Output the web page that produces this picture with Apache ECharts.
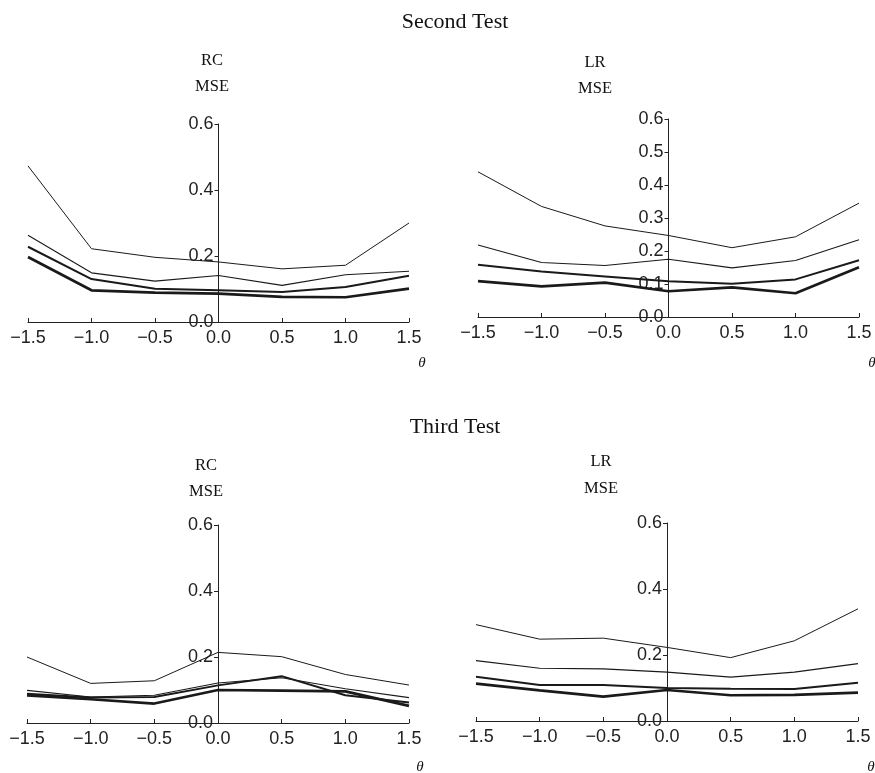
<!DOCTYPE html>
<html><head><meta charset="utf-8">
<script src="https://cdn.jsdelivr.net/npm/echarts@6/dist/echarts.min.js"></script>
<style>html,body{margin:0;padding:0;background:#fff}#c{width:875px;height:773px}</style>
</head><body><div id="c"></div>
<script>
var thetas = [-1.5, -1.0, -0.5, 0.0, 0.5, 1.0, 1.5];
var xTicks = ['−1.5','−1.0','−0.5','0.0','0.5','1.0','1.5'];

// Second Test, RC
var s2rcA = [0.473, 0.222, 0.196, 0.182, 0.161, 0.172, 0.300];
var s2rcB = [0.263, 0.149, 0.124, 0.141, 0.111, 0.143, 0.154];
var s2rcC = [0.228, 0.130, 0.101, 0.096, 0.091, 0.106, 0.140];
var s2rcD = [0.197, 0.096, 0.089, 0.086, 0.076, 0.075, 0.101];
// Second Test, LR
var s2lrA = [0.440, 0.335, 0.276, 0.247, 0.210, 0.243, 0.345];
var s2lrB = [0.218, 0.165, 0.156, 0.175, 0.149, 0.171, 0.234];
var s2lrC = [0.158, 0.138, 0.123, 0.108, 0.101, 0.114, 0.172];
var s2lrD = [0.109, 0.093, 0.104, 0.078, 0.090, 0.072, 0.151];
// Third Test, RC
var s3rcA = [0.200, 0.120, 0.128, 0.214, 0.201, 0.147, 0.115];
var s3rcB = [0.099, 0.079, 0.084, 0.121, 0.137, 0.104, 0.077];
var s3rcC = [0.089, 0.077, 0.079, 0.114, 0.142, 0.084, 0.062];
var s3rcD = [0.084, 0.072, 0.059, 0.100, 0.098, 0.096, 0.052];
// Third Test, LR
var s3lrA = [0.292, 0.248, 0.251, 0.223, 0.192, 0.243, 0.340];
var s3lrB = [0.183, 0.160, 0.158, 0.148, 0.133, 0.148, 0.174];
var s3lrC = [0.134, 0.109, 0.109, 0.100, 0.098, 0.097, 0.116];
var s3lrD = [0.113, 0.093, 0.074, 0.094, 0.078, 0.079, 0.086];

var panels = [
  {grid:{left:28, top:124, width:381, height:198}, yInt:0.2, lines:[s2rcA,s2rcB,s2rcC,s2rcD]},
  {grid:{left:478, top:119, width:381, height:198}, yInt:0.1, lines:[s2lrA,s2lrB,s2lrC,s2lrD]},
  {grid:{left:27, top:525, width:382, height:198}, yInt:0.2, lines:[s3rcA,s3rcB,s3rcC,s3rcD]},
  {grid:{left:476, top:523, width:382, height:198}, yInt:0.2, lines:[s3lrA,s3lrB,s3lrC,s3lrD]}
];
var widths = [1, 1.1, 2, 2.7];

var grids = [], xAxes = [], yAxes = [], series = [];
panels.forEach(function(p, i){
  grids.push(p.grid);
  xAxes.push({
    type:'value', gridIndex:i, min:-1.5, max:1.5, interval:0.5,
    axisLine:{show:true, onZero:false, lineStyle:{color:'#222', width:1}},
    axisTick:{show:true, inside:true, length:4, lineStyle:{color:'#222'}},
    splitLine:{show:false},
    axisLabel:{color:'#222', fontFamily:'Liberation Sans', fontSize:18, margin:7,
      formatter:function(v){ var k = Math.round((v+1.5)/0.5); return xTicks[k]; }}
  });
  yAxes.push({
    type:'value', gridIndex:i, min:0, max:0.6, interval:p.yInt,
    position:'left', offset:-(p.grid.width/2),
    axisLine:{show:true, onZero:false, lineStyle:{color:'#222', width:1}},
    axisTick:{show:true, length:4, lineStyle:{color:'#222'}},
    splitLine:{show:false},
    axisLabel:{color:'#222', fontFamily:'Liberation Sans', fontSize:18, margin:5,
      formatter:function(v){ return v.toFixed(1); }}
  });
  p.lines.forEach(function(arr, j){
    series.push({
      type:'line', xAxisIndex:i, yAxisIndex:i, symbol:'none', silent:true,
      lineStyle:{color:'#1a1a1a', width:widths[j]},
      data: thetas.map(function(t,k){ return [t, arr[k]]; })
    });
  });
});

var serif = 'Liberation Serif';
function t(text, left, top, size, style){
  return {text:text, left:left, top:top, textAlign:'center',
    textStyle:{fontFamily:serif, fontSize:size, fontWeight:'normal', fontStyle:style||'normal', color:'#111'}};
}
var titles = [
  t('Second Test', 450, 6, 22),
  t('RC', 207, 47, 16.5), t('MSE', 207, 73, 16.5),
  t('LR', 590, 49, 16.5), t('MSE', 590, 75, 16.5),
  t('Third Test', 450, 411, 22),
  t('RC', 201, 452, 16.5), t('MSE', 201, 478, 16.5),
  t('LR', 596, 448, 16.5), t('MSE', 596, 475, 16.5),
  t('θ', 417, 351, 15, 'italic'), t('θ', 867, 351, 15, 'italic'),
  t('θ', 415, 755, 15, 'italic'), t('θ', 866, 755, 15, 'italic')
];

var chart = echarts.init(document.getElementById('c'), null, {renderer:'canvas'});
chart.setOption({
  animation:false, backgroundColor:'#fff',
  title:titles, grid:grids, xAxis:xAxes, yAxis:yAxes, series:series
});
</script></body></html>
